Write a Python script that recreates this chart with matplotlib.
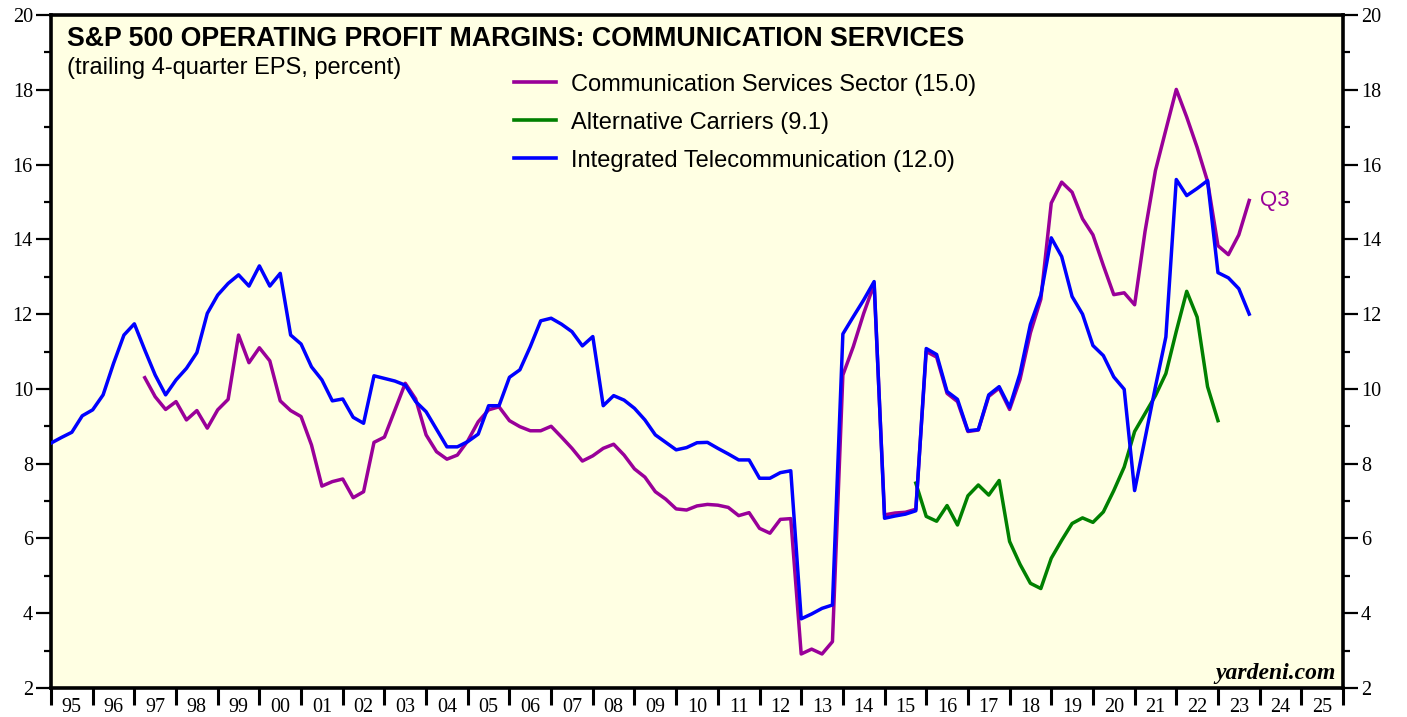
import matplotlib
matplotlib.use("Agg")
import matplotlib.pyplot as plt
from matplotlib.ticker import MultipleLocator, FixedLocator, NullFormatter
import numpy as np

# ---- data (quarterly, first point = 1994Q4 plotted at 1995.0) ----
start_year = 1995.0
comm_services_start = 9     # index of first value
comm_services = [
    10.30, 9.79, 9.45, 9.66, 9.17, 9.42, 8.95, 9.44, 9.72, 11.44, 10.70, 11.10, 10.75,
    9.68, 9.42, 9.26, 8.50, 7.40, 7.52, 7.59, 7.09, 7.25, 8.57, 8.71, 9.43, 10.15,
    9.73, 8.77, 8.32, 8.12, 8.23, 8.61, 9.12, 9.44, 9.52, 9.15, 8.99, 8.88, 8.88,
    9.00, 8.71, 8.41, 8.07, 8.21, 8.41, 8.52, 8.23, 7.86, 7.64, 7.25, 7.05, 6.79,
    6.76, 6.87, 6.91, 6.89, 6.83, 6.61, 6.69, 6.27, 6.14, 6.51, 6.53, 2.91, 3.04,
    2.91, 3.24, 10.37, 11.13, 12.02, 12.80, 6.63, 6.68, 6.70, 6.78, 11.00, 10.85,
    9.88, 9.66, 8.86, 8.90, 9.80, 10.02, 9.45, 10.25, 11.50, 12.40, 14.97, 15.53,
    15.26, 14.55, 14.12, 13.30, 12.52, 12.57, 12.25, 14.21, 15.84, 16.93, 18.01,
    17.27, 16.46, 15.55, 13.83, 13.59, 14.12, 15.04,
]
alt_carriers_start = 83
alt_carriers = [
    7.48, 6.59, 6.46, 6.88, 6.36, 7.14, 7.43, 7.16, 7.55, 5.92, 5.31, 4.80, 4.66,
    5.47, 5.95, 6.40, 6.55, 6.43, 6.71, 7.28, 7.91, 8.86, 9.34, 9.82, 10.41, 11.54,
    12.61, 11.92, 10.06, 9.15,
]
integrated_start = 0
integrated = [
    8.55, 8.70, 8.84, 9.28, 9.44, 9.84, 10.68, 11.44, 11.74, 11.04, 10.37, 9.84,
    10.24, 10.55, 10.97, 12.02, 12.51, 12.82, 13.05, 12.75, 13.29, 12.75, 13.09,
    11.44, 11.20, 10.59, 10.24, 9.68, 9.73, 9.24, 9.08, 10.35, 10.28, 10.21, 10.10,
    9.66, 9.39, 8.92, 8.45, 8.45, 8.59, 8.79, 9.55, 9.55, 10.31, 10.51, 11.13,
    11.82, 11.89, 11.73, 11.53, 11.15, 11.40, 9.55, 9.82, 9.70, 9.48, 9.17, 8.77,
    8.57, 8.37, 8.43, 8.56, 8.57, 8.41, 8.26, 8.10, 8.10, 7.61, 7.61, 7.76, 7.81,
    3.85, 3.98, 4.13, 4.22, 11.47, 11.93, 12.38, 12.87, 6.54, 6.60, 6.65, 6.74,
    11.08, 10.92, 9.93, 9.72, 8.88, 8.91, 9.84, 10.06, 9.51, 10.41, 11.73, 12.51,
    14.04, 13.54, 12.47, 12.00, 11.16, 10.89, 10.32, 9.99, 7.28, 8.67, 10.06,
    11.39, 15.60, 15.17, 15.36, 15.57, 13.11, 12.97, 12.68, 12.00,
]
labels = [
    "Communication Services Sector (15.0)",
    "Alternative Carriers (9.1)",
    "Integrated Telecommunication (12.0)",
]
year_labels = ["95", "96", "97", "98", "99", "00", "01", "02", "03", "04", "05", "06",
               "07", "08", "09", "10", "11", "12", "13", "14", "15", "16", "17", "18",
               "19", "20", "21", "22", "23", "24", "25"]


def xs(start_idx, values):
    return start_year + 0.25 * (start_idx + np.arange(len(values)))


PURPLE = "#990099"
GREEN = "#008000"
BLUE = "#0000FF"
BG = "#FFFFE3"
SERIF = "Liberation Serif"
SANS = "Liberation Sans"

fig = plt.figure(figsize=(14.07, 7.17), dpi=100)
ax = fig.add_axes([51 / 1407, 1 - 688 / 717, 1292 / 1407, 673 / 717])
ax.set_facecolor(BG)

lw = 2.5
ax.plot(xs(comm_services_start, comm_services), comm_services, color=PURPLE, lw=lw,
        label=labels[0], zorder=3)
ax.plot(xs(alt_carriers_start, alt_carriers), alt_carriers, color=GREEN, lw=lw,
        label=labels[1], zorder=3)
ax.plot(xs(integrated_start, integrated), integrated, color=BLUE, lw=lw,
        label=labels[2], zorder=4)

ax.set_xlim(1995, 1995 + len(year_labels))
ax.set_ylim(2, 20)

# y axis: both sides
ax.yaxis.set_major_locator(MultipleLocator(2))
ax.yaxis.set_minor_locator(MultipleLocator(1))
ax.tick_params(axis="y", which="both", direction="out", left=True, right=True,
               labelleft=True, labelright=True, width=1.6, colors="black")
ax.tick_params(axis="y", which="major", length=11, labelsize=14.5, pad=2)
ax.tick_params(axis="y", which="minor", length=5)

# x axis: ticks at year boundaries, labels centred in years
years = 1995 + np.arange(len(year_labels) + 1)
ax.xaxis.set_major_locator(FixedLocator(years))
ax.xaxis.set_major_formatter(NullFormatter())
ax.xaxis.set_minor_locator(FixedLocator(years[:-1] + 0.5))
ax.set_xticklabels(year_labels, minor=True)
ax.tick_params(axis="x", which="major", direction="out", length=12, width=2.2)
ax.tick_params(axis="x", which="minor", length=0, labelsize=14.5, pad=7.5)

plt.setp(ax.yaxis.get_majorticklabels(), family=SERIF)
plt.setp(ax.xaxis.get_minorticklabels(), family=SERIF)

for sp in ax.spines.values():
    sp.set_linewidth(2.6)
    sp.set_color("black")

# titles
ax.text(0.0124, 0.984, "S&P 500 OPERATING PROFIT MARGINS: COMMUNICATION SERVICES",
        transform=ax.transAxes, ha="left", va="top", fontsize=19.3, fontweight="bold",
        family=SANS)
ax.text(0.0124, 0.938, "(trailing 4-quarter EPS, percent)",
        transform=ax.transAxes, ha="left", va="top", fontsize=17, family=SANS)

leg = ax.legend(loc="upper left", bbox_to_anchor=(0.358, 0.913), frameon=False,
                prop={"family": SANS, "size": 17}, handlelength=1.8,
                handletextpad=0.62, labelspacing=0.68, borderpad=0, borderaxespad=0)
for h in leg.get_lines():
    h.set_linewidth(2.6)

ax.annotate("Q3", xy=(xs(comm_services_start, comm_services)[-1], comm_services[-1]),
            xytext=(8, 0), textcoords="offset points", ha="left", va="center",
            color=PURPLE, fontsize=16, family=SANS)

ax.text(0.9946, 0.014, "yardeni.com", transform=ax.transAxes, ha="right",
        va="baseline", fontsize=17, fontweight="bold", fontstyle="italic",
        family=SERIF)

fig.savefig("out.png", dpi=100, facecolor="white")
